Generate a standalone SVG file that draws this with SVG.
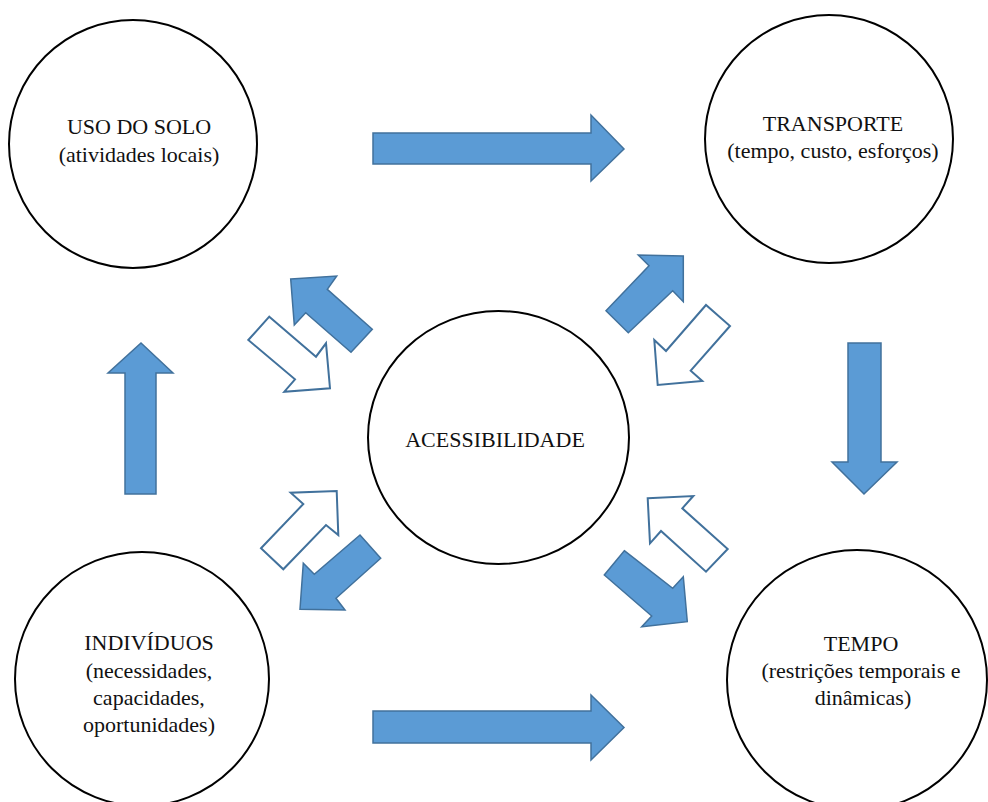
<svg xmlns="http://www.w3.org/2000/svg" width="988" height="802" viewBox="0 0 988 802">
<style>
.node{fill:#fff;stroke:#000;stroke-width:2}
.lbl{font-family:"Liberation Serif","Times New Roman","DejaVu Serif",serif;font-size:22px;fill:#111;text-anchor:middle}
.solid{fill:#5B9BD5;stroke:#41719C;stroke-width:1.5;stroke-linejoin:miter}
.hollow{fill:#fff;stroke:#41719C;stroke-width:2;stroke-linejoin:miter}
</style>
<rect width="988" height="802" fill="#fff"/>
<g id="connectors">
<polygon class="solid" points="373,133 591,133 591,115 624,149 591,181 591,164 373,164"/>
<polygon class="solid" points="373,711 591,711 591,695 624,727.5 591,760 591,743 373,743"/>
<polygon class="solid" points="141,343 173,373 156,373 156,494 125,494 125,373 108,373"/>
<polygon class="solid" points="848,343 881,343 881,462 897,462 864,494 832,462 848,462"/>
<polygon class="solid" points="290.7,279 336.7,276 327.3,289.3 372.3,329.3 351,352.3 305.7,312.7 294.3,325"/>
<polygon class="hollow" points="269.3,316.7 316,356.7 326,343.3 330,388.3 284.3,391.7 295,379.3 248.3,340"/>
<polygon class="hollow" points="261,548.3 303.3,504 290.7,492.7 336.7,491 338.3,535 326,525 283.3,569.3"/>
<polygon class="solid" points="360,535 314.3,574.3 303.3,563.3 300,609.3 345,610 336,598.3 380.7,558.3"/>
<polygon class="solid" points="606,310.7 649,265.7 638.3,255 683.3,256 683.3,301.7 672.7,290.7 628.3,332.7"/>
<polygon class="hollow" points="706,305 666,351 654.3,340 657.7,385 702.3,381 690.7,370.7 730,326"/>
<polygon class="hollow" points="647.7,498.3 693.3,496 682.3,508.3 727.7,549 706,571.7 661,531 650,543.3"/>
<polygon class="solid" points="624.3,550.7 672.7,588.3 683.3,576.7 687.3,621.7 641.7,626.7 651.7,616 604.3,575"/>
</g>
<g id="uso-do-solo">
<circle class="node" cx="133" cy="144" r="124"/>
<text class="lbl" x="139" y="134">USO DO SOLO</text>
<text class="lbl" x="139" y="162">(atividades locais)</text>
</g>
<g id="transporte">
<circle class="node" cx="829" cy="139" r="124"/>
<text class="lbl" x="833" y="131">TRANSPORTE</text>
<text class="lbl" x="833" y="158">(tempo, custo, esforços)</text>
</g>
<g id="acessibilidade">
<ellipse class="node" cx="498.5" cy="437.5" rx="130.5" ry="126.5"/>
<text class="lbl" x="495" y="447">ACESSIBILIDADE</text>
</g>
<g id="individuos">
<circle class="node" cx="142" cy="679" r="127"/>
<text class="lbl" x="149" y="650">INDIVÍDUOS</text>
<text class="lbl" x="149" y="678">(necessidades,</text>
<text class="lbl" x="149" y="705">capacidades,</text>
<text class="lbl" x="149" y="732">oportunidades)</text>
</g>
<g id="tempo">
<circle class="node" cx="857" cy="680" r="130"/>
<text class="lbl" x="861" y="651">TEMPO</text>
<text class="lbl" x="861" y="678">(restrições temporais e</text>
<text class="lbl" x="863" y="705">dinâmicas)</text>
</g>
</svg>
